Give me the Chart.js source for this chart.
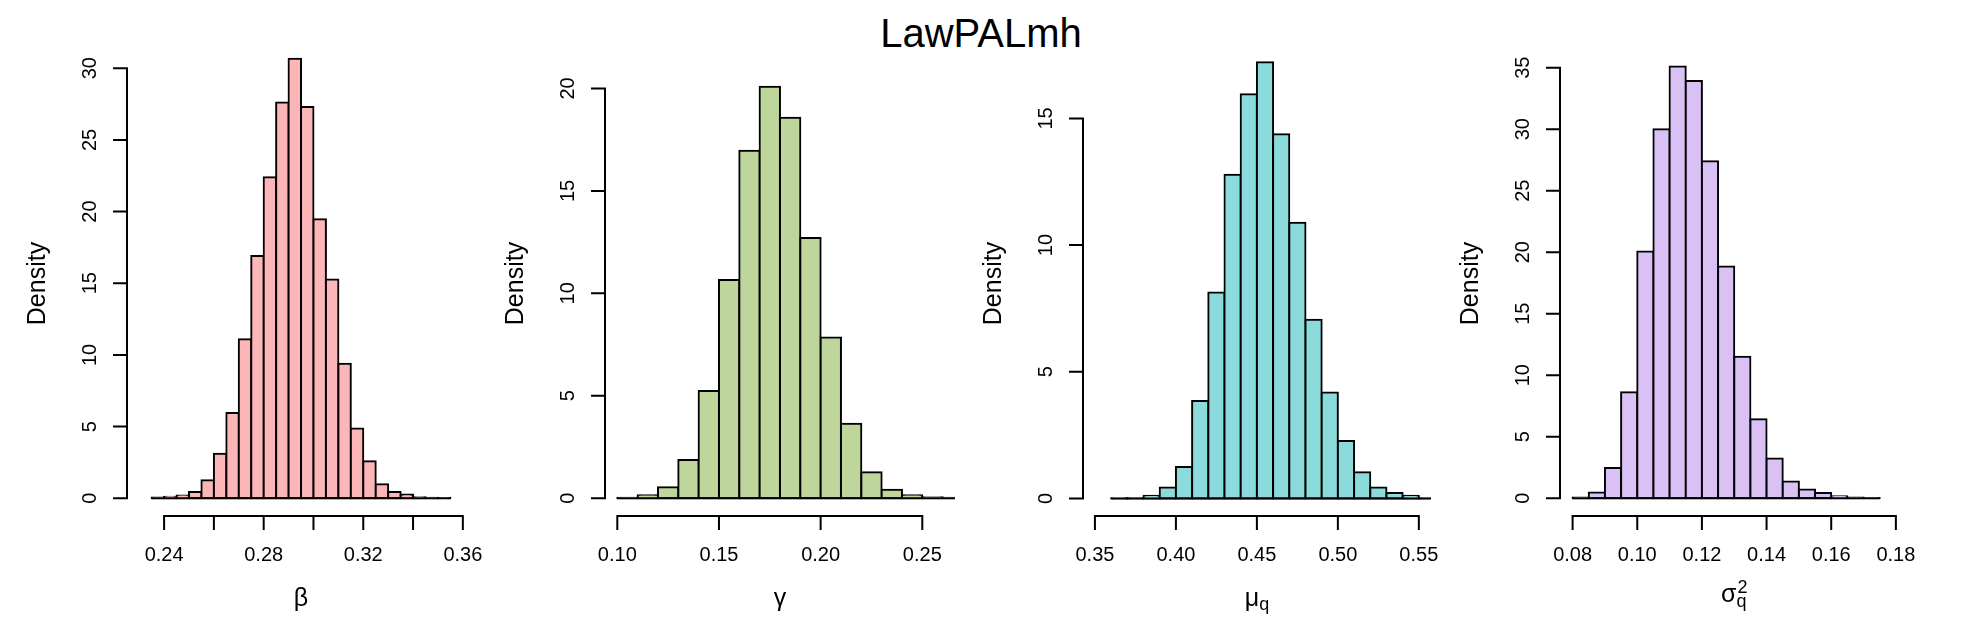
<!DOCTYPE html>
<html>
<head>
<meta charset="utf-8">
<script src="https://cdn.jsdelivr.net/npm/chart.js@4.4.0/dist/chart.umd.min.js"></script>
<style>
  html, body { margin: 0; padding: 0; background: #fff; }
  body { width: 1962px; height: 642px; position: relative; overflow: hidden;
         font-family: "Liberation Sans", Arial, Helvetica, sans-serif; }
  #title { position: absolute; left: 0; top: 13px; width: 1962px; text-align: center;
           font-size: 40px; line-height: 40px; color: #000; }
  canvas { position: absolute; top: 0; }
</style>
</head>
<body>
<div id="title">LawPALmh</div>
<canvas id="p0" width="485" height="642"></canvas>
<canvas id="p1" width="485" height="642"></canvas>
<canvas id="p2" width="485" height="642"></canvas>
<canvas id="p3" width="485" height="642"></canvas>
<script>
const FONT = '"Liberation Sans", Arial, Helvetica, sans-serif';

// lower edge of each histogram bin, and its density
const betaBins = [0.235, 0.240, 0.245, 0.250, 0.255, 0.260, 0.265, 0.270, 0.275, 0.280, 0.285, 0.290,
                  0.295, 0.300, 0.305, 0.310, 0.315, 0.320, 0.325, 0.330, 0.335, 0.340, 0.345, 0.350];
const betaDensity = [0.05, 0.1, 0.2, 0.44, 1.26, 3.1, 5.95, 11.1, 16.9, 22.4, 27.6, 30.66,
                     27.3, 19.46, 15.27, 9.39, 4.86, 2.58, 0.98, 0.44, 0.26, 0.08, 0.03, 0.02];

const gammaBins = [0.10, 0.11, 0.12, 0.13, 0.14, 0.15, 0.16, 0.17, 0.18, 0.19, 0.20, 0.21, 0.22,
                   0.23, 0.24, 0.25, 0.26];
const gammaDensity = [0.02, 0.15, 0.54, 1.87, 5.23, 10.65, 16.96, 20.08, 18.57, 12.7, 7.85, 3.64, 1.27,
                      0.41, 0.15, 0.05, 0.02];

const muBins = [0.36, 0.37, 0.38, 0.39, 0.40, 0.41, 0.42, 0.43, 0.44, 0.45,
                0.46, 0.47, 0.48, 0.49, 0.50, 0.51, 0.52, 0.53, 0.54, 0.55];
const muDensity = [0.01, 0.02, 0.1, 0.43, 1.24, 3.84, 8.13, 12.78, 15.95, 17.22,
                   14.37, 10.88, 7.05, 4.18, 2.27, 1.03, 0.43, 0.21, 0.1, 0.02];

const sigmaBins = [0.080, 0.085, 0.090, 0.095, 0.100, 0.105, 0.110, 0.115, 0.120, 0.125,
                   0.130, 0.135, 0.140, 0.145, 0.150, 0.155, 0.160, 0.165, 0.170];
const sigmaDensity = [0.05, 0.46, 2.46, 8.62, 20.05, 30.0, 35.09, 33.93, 27.4, 18.83,
                      11.5, 6.42, 3.22, 1.35, 0.7, 0.43, 0.15, 0.05, 0.02];

const binWidths = [0.005, 0.01, 0.01, 0.005];

// zero line under each histogram
const baseFrom = [0.235, 0.10, 0.36, 0.08];
const baseTo = [0.355, 0.27, 0.56, 0.175];

// axes
const xTicks = [
  [0.24, 0.26, 0.28, 0.30, 0.32, 0.34, 0.36],
  [0.10, 0.15, 0.20, 0.25],
  [0.35, 0.40, 0.45, 0.50, 0.55],
  [0.08, 0.10, 0.12, 0.14, 0.16, 0.18]
];
const xTickLabels = [
  ['0.24', '', '0.28', '', '0.32', '', '0.36'],
  ['0.10', '0.15', '0.20', '0.25'],
  ['0.35', '0.40', '0.45', '0.50', '0.55'],
  ['0.08', '0.10', '0.12', '0.14', '0.16', '0.18']
];
const yTicks = [
  [0, 5, 10, 15, 20, 25, 30],
  [0, 5, 10, 15, 20],
  [0, 5, 10, 15],
  [0, 5, 10, 15, 20, 25, 30, 35]
];
const xLimits = [[0.2251, 0.3648], [0.09395, 0.26608], [0.34263, 0.55755], [0.0761, 0.18359]];
const yLimits = [[-1.235, 31.20], [-0.869, 21.83], [-0.695, 17.66], [-1.447, 36.36]];

const symbols = ['β', 'γ', 'μ', 'σ'];
const subs = ['', '', 'q', 'q'];
const sups = ['', '', '', '2'];

const fills = ['#FCB6B8', '#BED69C', '#8BDBDC', '#DAC1F5'];
const axisLeft = [127, 605, 1083, 1560];
const TICK = 13;

// R-style axes: lines only from first to last tick, ticks pointing out
const rAxes = {
  id: 'rAxes',
  afterDraw(chart, args, o) {
    const { ctx, chartArea: a, scales: { x, y } } = chart;
    ctx.save();
    ctx.strokeStyle = '#000';
    ctx.lineWidth = 2;
    ctx.lineCap = 'square';
    ctx.beginPath();
    const xp = x.ticks.map(t => x.getPixelForValue(t.value));
    ctx.moveTo(xp[0], a.bottom);
    ctx.lineTo(xp[xp.length - 1], a.bottom);
    xp.forEach(p => { ctx.moveTo(p, a.bottom); ctx.lineTo(p, a.bottom + TICK); });
    const yp = y.ticks.map(t => y.getPixelForValue(t.value));
    ctx.moveTo(a.left, yp[0]);
    ctx.lineTo(a.left, yp[yp.length - 1]);
    yp.forEach(p => { ctx.moveTo(a.left, p); ctx.lineTo(a.left - TICK, p); });
    ctx.stroke();

    // x label with subscript / superscript
    ctx.fillStyle = '#000';
    ctx.textBaseline = 'alphabetic';
    ctx.textAlign = 'left';
    ctx.font = '25px ' + FONT;
    const wMain = ctx.measureText(o.sym).width;
    ctx.font = '18px ' + FONT;
    const wSmall = Math.max(o.sub ? ctx.measureText(o.sub).width : 0,
                            o.sup ? ctx.measureText(o.sup).width : 0);
    const base = a.bottom + (o.sup ? 86 : 90);
    const x0 = (a.left + a.right) / 2 - (wMain + wSmall) / 2;
    ctx.font = '25px ' + FONT;
    ctx.fillText(o.sym, x0, base);
    ctx.font = '18px ' + FONT;
    if (o.sub) ctx.fillText(o.sub, x0 + wMain, base + (o.sup ? 5 : 4));
    if (o.sup) ctx.fillText(o.sup, x0 + wMain + 1, base - 9);
    ctx.restore();
  }
};

function makePanel(i, bins, dens) {
  const canvas = document.getElementById('p' + i);
  canvas.style.left = (axisLeft[i] - 115) + 'px';
  const w = binWidths[i];
  new Chart(canvas, {
    type: 'bar',
    data: {
      datasets: [{
        type: 'bar',
        data: bins.map((b, k) => ({ x: b + w / 2, y: dens[k] })),
        backgroundColor: fills[i],
        borderColor: '#000',
        borderWidth: 2,
        borderSkipped: false,
        inflateAmount: 1,
        barPercentage: 1,
        categoryPercentage: 1,
        clip: 0,
        order: 1
      }, {
        type: 'line',
        data: [{ x: baseFrom[i], y: 0 }, { x: baseTo[i], y: 0 }],
        borderColor: '#000',
        backgroundColor: '#000',
        borderWidth: 2,
        pointRadius: 0,
        clip: 0,
        order: 0
      }]
    },
    options: {
      responsive: false,
      animation: false,
      layout: { padding: { top: 51, right: 20, bottom: 0, left: 0 } },
      plugins: {
        legend: { display: false },
        tooltip: { enabled: false },
        rAxes: { sym: symbols[i], sub: subs[i], sup: sups[i] }
      },
      scales: {
        x: {
          type: 'linear',
          min: xLimits[i][0],
          max: xLimits[i][1],
          bounds: 'data',
          offset: false,
          grid: { display: false, offset: false, drawTicks: true, tickLength: TICK },
          border: { display: false },
          afterBuildTicks: s => { s.ticks = xTicks[i].map(v => ({ value: v })); },
          afterFit: s => { s.height = 126; },
          ticks: {
            autoSkip: false, minRotation: 0, maxRotation: 0, padding: 14, color: '#000',
            font: { family: FONT, size: 20 },
            callback: (v, k) => xTickLabels[i][k]
          }
        },
        y: {
          type: 'linear',
          min: yLimits[i][0],
          max: yLimits[i][1],
          bounds: 'data',
          grid: { display: false, drawTicks: true, tickLength: TICK },
          border: { display: false },
          afterBuildTicks: s => { s.ticks = yTicks[i].map(v => ({ value: v })); },
          afterFit: s => { s.width = 115; },
          ticks: {
            minRotation: 90, maxRotation: 90, crossAlign: 'center', padding: 12, color: '#000',
            font: { family: FONT, size: 20 },
            callback: v => String(v)
          },
          title: {
            display: true, text: 'Density', color: '#000',
            font: { family: FONT, size: 25 },
            padding: { top: 11, bottom: 0 }
          }
        }
      }
    },
    plugins: [rAxes]
  });
}

makePanel(0, betaBins, betaDensity);
makePanel(1, gammaBins, gammaDensity);
makePanel(2, muBins, muDensity);
makePanel(3, sigmaBins, sigmaDensity);
</script>
</body>
</html>
